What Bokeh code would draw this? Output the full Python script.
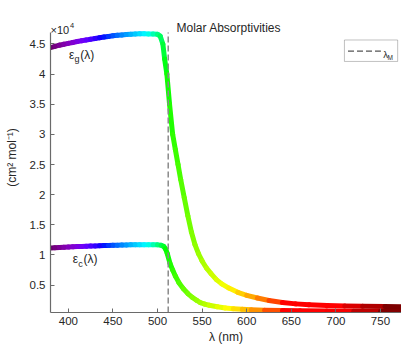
import numpy as np
from bokeh.plotting import figure
from bokeh.models import ColumnDataSource, Label, BoxAnnotation, FixedTicker, Range1d
from bokeh.embed import file_html
from bokeh.resources import INLINE

# ---- data (values in units of 10^4 cm^2 mol^-1) ----
wavelength_g = [380, 385, 390, 395, 400, 405, 410, 415, 420, 425, 430, 435, 440, 445, 450,
                455, 460, 465, 470, 475, 480, 485, 490, 495, 500, 503, 506, 508, 510.5,
                513.5, 517, 520, 523, 526, 530, 534, 538, 542, 546, 550, 555, 560, 566,
                572, 580, 590, 600, 612, 625, 640, 655, 670, 690, 710, 730, 755, 780]
eps_g = [4.44, 4.46, 4.48, 4.495, 4.51, 4.525, 4.54, 4.553, 4.566, 4.578, 4.59, 4.603, 4.615,
         4.625, 4.635, 4.643, 4.65, 4.657, 4.662, 4.666, 4.668, 4.668, 4.667, 4.665, 4.66,
         4.63, 4.5, 4.25, 4.0, 3.5, 3.0, 2.75, 2.5, 2.25, 1.95, 1.65, 1.38, 1.17, 1.02, 0.9,
         0.78, 0.69, 0.59, 0.52, 0.45, 0.38, 0.33, 0.285, 0.245, 0.21, 0.188, 0.172, 0.16,
         0.152, 0.147, 0.143, 0.14]

wavelength_c = [380, 385, 390, 395, 400, 405, 410, 415, 420, 425, 430, 435, 440, 445, 450,
                455, 460, 465, 470, 475, 480, 485, 490, 495, 500, 504, 507, 509, 511, 514,
                517, 520, 524, 529, 534, 539, 544, 548, 553, 558, 567, 576, 585, 595, 605,
                620, 640, 660, 690, 720, 750, 780]
eps_c = [1.114, 1.118, 1.122, 1.126, 1.13, 1.134, 1.138, 1.141, 1.144, 1.147, 1.15, 1.153,
         1.156, 1.158, 1.16, 1.162, 1.164, 1.166, 1.167, 1.168, 1.169, 1.169, 1.169, 1.168,
         1.167, 1.16, 1.14, 1.1, 1.02, 0.86, 0.75, 0.65, 0.54, 0.44, 0.36, 0.295, 0.245,
         0.21, 0.185, 0.165, 0.14, 0.12, 0.107, 0.097, 0.09, 0.083, 0.077, 0.073, 0.068,
         0.065, 0.063, 0.062]

lambda_M = 512
x_ticks = [400, 450, 500, 550, 600, 650, 700, 750]
y_ticks = [0.5, 1, 1.5, 2, 2.5, 3, 3.5, 4, 4.5]
y_tick_labels = ["0.5", "1", "1.5", "2", "2.5", "3", "3.5", "4", "4.5"]
SCALE = 1e4
Y_MIN, Y_MAX = 450, 46900          # extent of the axes box
X_MIN, X_MAX = 380, 780

FONT = "Liberation Sans"
TXT = "#262626"
AX = "#6a6a6a"


def wl_rgb(w):
    if w < 440:
        r, g, b = -(w - 440) / 60.0, 0.0, 1.0
    elif w < 490:
        r, g, b = 0.0, (w - 440) / 50.0, 1.0
    elif w < 510:
        r, g, b = 0.0, 1.0, -(w - 510) / 20.0
    elif w < 580:
        r, g, b = (w - 510) / 70.0, 1.0, 0.0
    elif w < 645:
        r, g, b = 1.0, -(w - 645) / 65.0, 0.0
    else:
        r, g, b = 1.0, 0.0, 0.0
    if w < 420:
        f = 0.3 + 0.7 * (w - 380) / 40.0
    elif w <= 700:
        f = 1.0
    else:
        f = 0.3 + 0.7 * (780 - w) / 80.0
    def c(v):
        return int(round(255 * (v * f) ** 0.8)) if v > 0 else 0
    return "#%02x%02x%02x" % (c(r), c(g), c(b))


def seg_source(wl, vals):
    wl = np.asarray(wl, float)
    v = np.asarray(vals, float) * SCALE
    mid = (wl[:-1] + wl[1:]) / 2
    return ColumnDataSource(dict(x0=wl[:-1], y0=v[:-1], x1=wl[1:], y1=v[1:],
                                 color=[wl_rgb(m) for m in mid]))


# frame extends above the axes box so the title and exponent can sit in it
p = figure(width=401, height=348, x_range=Range1d(X_MIN, 773.6), y_range=Range1d(Y_MIN, 51880),
           output_backend="svg", toolbar_location=None,
           min_border_left=50, min_border_right=0, min_border_top=2, min_border_bottom=36)
p.outline_line_color = None
p.xgrid.grid_line_color = None
p.ygrid.grid_line_color = None
p.background_fill_color = "white"
p.border_fill_color = "white"

for src in (seg_source(wavelength_g, eps_g), seg_source(wavelength_c, eps_c)):
    p.segment("x0", "y0", "x1", "y1", source=src, line_color="color", line_width=5,
              line_cap="round")

# lambda_M marker
p.segment(x0=[lambda_M], y0=[Y_MIN], x1=[lambda_M], y1=[Y_MAX], line_color="#8a8a8a",
          line_dash="6 3", line_width=1.5)

# axes
p.xaxis.ticker = FixedTicker(ticks=x_ticks)
p.yaxis.ticker = FixedTicker(ticks=[t * SCALE for t in y_ticks])
p.yaxis.major_label_overrides = {t * SCALE: lab for t, lab in zip(y_ticks, y_tick_labels)}
p.yaxis.bounds = (Y_MIN, Y_MAX)
for ax in (p.xaxis[0], p.yaxis[0]):
    ax.axis_line_color = AX
    ax.axis_line_width = 1.2
    ax.major_tick_line_color = AX
    ax.major_tick_in = 4
    ax.major_tick_out = 0
    ax.minor_tick_line_color = None
    ax.major_label_text_font = FONT
    ax.major_label_text_font_size = "11.5px"
    ax.major_label_text_color = TXT
    ax.axis_label_text_font = FONT
    ax.axis_label_text_font_size = "12px"
    ax.axis_label_text_font_style = "normal"
    ax.axis_label_text_color = TXT
p.xaxis.axis_label = "λ (nm)"
p.xaxis.major_label_standoff = 4
p.xaxis.axis_label_standoff = 2
p.yaxis.axis_label = "(cm² mol⁻¹)"
p.yaxis.major_label_standoff = 5
p.yaxis.axis_label_standoff = 8


def lab(x, y, text, size, align="left"):
    p.add_layout(Label(x=x, y=y, text=text, text_font=FONT, text_font_size=size,
                       text_color=TXT, text_align=align, text_baseline="alphabetic"))


# title and exponent
lab((X_MIN + X_MAX) / 2, 4.773 * SCALE, "Molar Absorptivities", "12px", align="center")
lab(380.0, 4.74 * SCALE, "×10", "11px")
lab(402.0, 4.81 * SCALE, "4", "7.5px")

# curve labels
lab(400.8, 4.32 * SCALE, "ε", "12px")
lab(407.0, 4.25 * SCALE, "g", "9px")
lab(413.5, 4.32 * SCALE, "(λ)", "12px")
lab(404.9, 0.93 * SCALE, "ε", "12px")
lab(411.0, 0.85 * SCALE, "c", "9px")
lab(417.0, 0.93 * SCALE, "(λ)", "12px")

# legend
p.add_layout(BoxAnnotation(left=709.6, right=769.3, bottom=4.21 * SCALE, top=4.566 * SCALE,
                           fill_color="white", fill_alpha=1, line_color="#333333",
                           line_width=1, level="underlay"))
p.segment(x0=[713.6], y0=[4.38 * SCALE], x1=[750.5], y1=[4.38 * SCALE],
          line_color="#555555", line_dash="6 3", line_width=1.2)
lab(753.0, 4.32 * SCALE, "λ", "9.5px")
lab(757.8, 4.275 * SCALE, "M", "6.5px")

open("out.html", "w").write(file_html(p, INLINE))
